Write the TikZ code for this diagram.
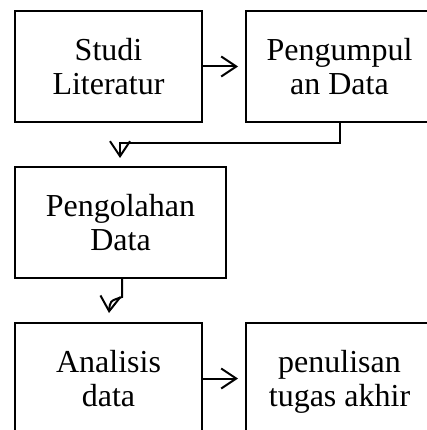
\documentclass[tikz,border=0pt]{standalone}
\usepackage{fontspec}
\setmainfont{Liberation Serif}
\usetikzlibrary{arrows.meta}
\begin{document}
\begin{tikzpicture}[x=1pt,y=1pt,
  box/.style={draw,line width=2pt,rectangle,inner sep=0pt,align=center,
    font=\fontsize{32}{34}\selectfont},
  conn/.style={line width=2pt,-{Straight Barb[length=15pt,width=20pt,line width=2pt]}}]
\useasboundingbox (0,0) rectangle (426,-430);
\node[box,minimum width=187pt,minimum height=111pt] (n1) at (108.5,-66.5) {Studi\\Literatur};
\node[box,minimum width=187pt,minimum height=111pt] (n2) at (339.5,-66.5) {Pengumpul\\an Data};
\node[box,minimum width=211pt,minimum height=111pt] (n3) at (120.5,-222.5) {Pengolahan\\Data};
\node[box,minimum width=187pt,minimum height=111pt] (n4) at (108.5,-378.5) {Analisis\\data};
\node[box,minimum width=187pt,minimum height=111pt] (n5) at (339.5,-378.5) {penulisan\\\smash{tugas akhir}};
\coordinate (t2) at (120,-158);
\coordinate (c3) at (122,-297);
\coordinate (t3) at (109,-313);
\draw[conn,shorten >=7pt] (n1.east) -- (n2.west);
\draw[conn,shorten >=7pt] (n4.east) -- (n5.west);
\draw[conn] (n2.south) -- ++(0,-20) -| (t2);
\draw[conn] (n3.south -| c3) -- (c3) .. controls (110,-301) .. (t3);
\end{tikzpicture}
\end{document}
